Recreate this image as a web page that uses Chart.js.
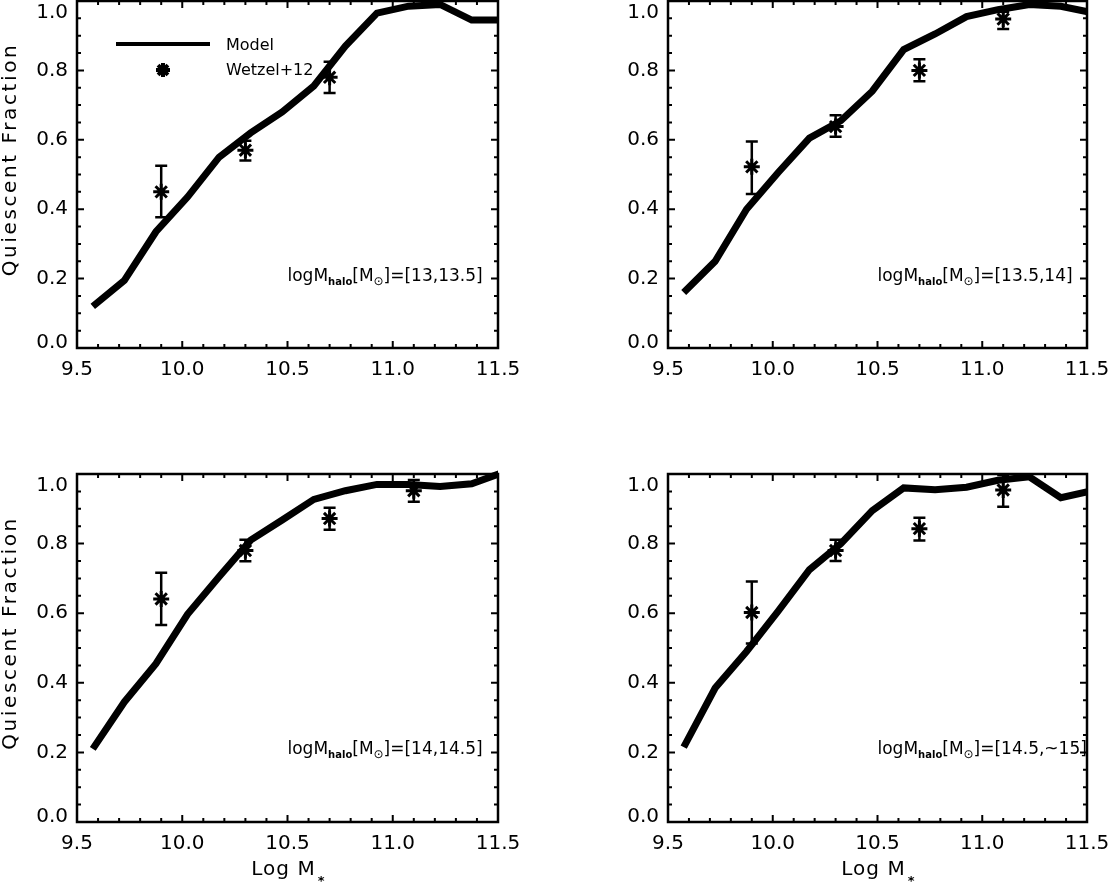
<!DOCTYPE html>
<html>
<head>
<meta charset="utf-8">
<script src="https://cdn.jsdelivr.net/npm/chart.js@4.4.1/dist/chart.umd.min.js"></script>
<style>
  html, body { margin: 0; padding: 0; background: #fff; width: 1110px; height: 886px; overflow: hidden; position: relative; }
</style>
</head>
<body>
<script>
// ---- data ----
const massBins = [9.575, 9.725, 9.875, 10.025, 10.175, 10.325, 10.475, 10.625, 10.775, 10.925, 11.075, 11.225, 11.375, 11.525];
const obsMass = [9.9, 10.3, 10.7, 11.1];
const xTicks = [9.5, 10.0, 10.5, 11.0, 11.5];
const yTicks = [0.0, 0.2, 0.4, 0.6, 0.8, 1.0];

// model quiescent fraction, one list per halo mass bin
const modelTL = [0.12, 0.195, 0.335, 0.435, 0.55, 0.62, 0.68, 0.755, 0.87, 0.965, 0.985, 0.99, 0.945, 0.945];
const modelTR = [0.16, 0.25, 0.40, 0.505, 0.605, 0.655, 0.74, 0.86, 0.905, 0.955, 0.975, 0.99, 0.985, 0.966];
const modelBL = [0.21, 0.345, 0.455, 0.597, 0.705, 0.81, 0.868, 0.927, 0.952, 0.97, 0.97, 0.964, 0.972, 1.005];
const modelBR = [0.215, 0.385, 0.49, 0.605, 0.725, 0.80, 0.895, 0.96, 0.955, 0.962, 0.982, 0.992, 0.932, 0.952];

// Wetzel+12 points and error bar ends
const obsTL = [0.45, 0.57, 0.78, null];
const obsLoTL = [0.377, 0.54, 0.735, null];
const obsHiTL = [0.525, 0.597, 0.825, null];
const obsTR = [0.522, 0.638, 0.80, 0.948];
const obsLoTR = [0.444, 0.609, 0.769, 0.919];
const obsHiTR = [0.595, 0.671, 0.832, 0.969];
const obsBL = [0.641, 0.78, 0.872, 0.952];
const obsLoBL = [0.566, 0.749, 0.84, 0.92];
const obsHiBL = [0.716, 0.811, 0.903, 0.983];
const obsBR = [0.602, 0.78, 0.843, 0.954];
const obsLoBR = [0.513, 0.75, 0.809, 0.906];
const obsHiBR = [0.691, 0.811, 0.874, 0.997];

const haloRanges = ['[13,13.5]', '[13.5,14]', '[14,14.5]', '[14.5,~15]'];

// ---- styling ----
const FONT = "'DejaVu Sans', 'Liberation Sans', sans-serif";
Chart.defaults.font.family = FONT;
Chart.defaults.color = '#000';

// y axis that keeps the end labels inside the frame (like IDL does)
const BaseLinear = Chart.LinearScale || Chart.registry.getScale('linear');
class EdgeLinearScale extends BaseLinear {
    _computeLabelItems(chartArea) {
        const items = super._computeLabelItems(chartArea);
        if (this.isHorizontal() || items.length < 2) return items;
        items[0].options.textBaseline = 'alphabetic';
        const last = items[items.length - 1].options;
        last.textBaseline = 'top';
        last.translation = [last.translation[0], last.translation[1] + 2];
        return items;
    }
}
EdgeLinearScale.id = 'edgeLinear';
EdgeLinearScale.defaults = BaseLinear.defaults;
Chart.register(EdgeLinearScale);

function drawSubText(ctx, parts, x, y) {
    // parts: [text, size, bold, dy]
    ctx.textAlign = 'left';
    ctx.textBaseline = 'alphabetic';
    parts.forEach(([t, size, bold, dy]) => {
        ctx.font = (bold ? 'bold ' : '') + size + 'px ' + FONT;
        ctx.fillText(t, x, y + dy);
        x += ctx.measureText(t).width;
    });
}

const panelDecor = {
    id: 'panelDecor',
    beforeDatasetsDraw(chart) {
        const ctx = chart.ctx, xs = chart.scales.x, ys = chart.scales.y;
        chart.data.datasets.forEach(ds => {
            if (!ds.errLo) return;
            ctx.save();
            ctx.strokeStyle = '#000';
            ctx.lineWidth = 2.5;
            ds.data.forEach((pt, i) => {
                const px = xs.getPixelForValue(pt.x);
                const lo = ys.getPixelForValue(ds.errLo[i]);
                const hi = ys.getPixelForValue(ds.errHi[i]);
                ctx.beginPath();
                ctx.moveTo(px, lo); ctx.lineTo(px, hi);
                ctx.moveTo(px - 6, lo); ctx.lineTo(px + 6, lo);
                ctx.moveTo(px - 6, hi); ctx.lineTo(px + 6, hi);
                ctx.stroke();
            });
            ctx.restore();
        });
    },
    afterDraw(chart, args, opts) {
        const ctx = chart.ctx, ca = chart.chartArea;
        const xs = chart.scales.x, ys = chart.scales.y;
        ctx.save();
        ctx.strokeStyle = '#000';
        ctx.fillStyle = '#000';

        // inward ticks on all four sides
        ctx.lineWidth = 2;
        ctx.beginPath();
        for (let k = 0; k <= 20; k++) {
            const v = 9.5 + k * 0.1;
            const len = (k % 5 === 0) ? 7 : 4;
            const px = xs.getPixelForValue(v);
            ctx.moveTo(px, ca.bottom); ctx.lineTo(px, ca.bottom - len);
            ctx.moveTo(px, ca.top); ctx.lineTo(px, ca.top + len);
        }
        for (let k = 0; k <= 20; k++) {
            const v = k * 0.05;
            const len = (k % 4 === 0) ? 7 : 4;
            const py = ys.getPixelForValue(v);
            ctx.moveTo(ca.left, py); ctx.lineTo(ca.left + len, py);
            ctx.moveTo(ca.right, py); ctx.lineTo(ca.right - len, py);
        }
        ctx.stroke();

        // frame
        ctx.lineWidth = 2.5;
        ctx.strokeRect(ca.left, ca.top, ca.right - ca.left, ca.bottom - ca.top);

        // halo mass bin label
        drawSubText(ctx, [
            ['logM', 17, false, 0],
            ['halo', 10, true, 4],
            ['[M', 17, false, 0],
            ['\u2299', 12, false, 4],
            [']=' + opts.range, 17, false, 0]
        ], xs.getPixelForValue(10.5), ys.getPixelForValue(0.2) + 2);

        // legend (first panel only)
        if (opts.legend) {
            const ds = chart.data.datasets;
            ctx.lineWidth = 4;
            ctx.beginPath();
            ctx.moveTo(ca.left + 39, ca.top + 43);
            ctx.lineTo(ca.left + 133, ca.top + 43);
            ctx.stroke();
            ctx.lineWidth = 4;
            Chart.helpers.drawPoint(ctx, { pointStyle: 'star', radius: 7, borderWidth: 4, rotation: 0 },
                ca.left + 86, ca.top + 69);
            ctx.font = '16px ' + FONT;
            ctx.textAlign = 'left';
            ctx.textBaseline = 'middle';
            ctx.fillText(ds[0].label, ca.left + 149, ca.top + 45);
            ctx.fillText(ds[1].label, ca.left + 149, ca.top + 70);
        }

        // axis titles
        if (opts.yTitle) {
            ctx.save();
            ctx.translate(11, (ca.top + ca.bottom) / 2 - 15);
            ctx.rotate(-Math.PI / 2);
            ctx.font = '20px ' + FONT;
            ctx.letterSpacing = '2.6px';
            ctx.textAlign = 'center';
            ctx.textBaseline = 'middle';
            ctx.fillText('Quiescent Fraction', 0, 0);
            ctx.restore();
        }
        if (opts.xTitle) {
            ctx.font = '20px ' + FONT;
            ctx.letterSpacing = '1px';
            const main = 'Log M';
            const w = ctx.measureText(main).width;
            const cx = (ca.left + ca.right) / 2;
            const base = ca.bottom + 53;
            ctx.textAlign = 'left';
            ctx.textBaseline = 'alphabetic';
            ctx.fillText(main, cx - w / 2 - 4, base);
            ctx.letterSpacing = '0px';
            ctx.font = 'bold 13px ' + FONT;
            ctx.fillText('*', cx + w / 2 - 2, base + 10);
        }
        ctx.restore();
    }
};

const PANELS = [
    { box: { left: 77, top: 1, right: 498, bottom: 348 }, model: modelTL, obs: obsTL, lo: obsLoTL, hi: obsHiTL, range: haloRanges[0], legend: true, yTitle: true, xTitle: false },
    { box: { left: 668, top: 1, right: 1087, bottom: 348 }, model: modelTR, obs: obsTR, lo: obsLoTR, hi: obsHiTR, range: haloRanges[1], legend: false, yTitle: false, xTitle: false },
    { box: { left: 77, top: 474, right: 498, bottom: 822 }, model: modelBL, obs: obsBL, lo: obsLoBL, hi: obsHiBL, range: haloRanges[2], legend: false, yTitle: true, xTitle: true },
    { box: { left: 668, top: 474, right: 1087, bottom: 822 }, model: modelBR, obs: obsBR, lo: obsLoBR, hi: obsHiBR, range: haloRanges[3], legend: false, yTitle: false, xTitle: true }
];

const Y_AXIS_W = 77, TOP_PAD = 31, X_AXIS_H = 60;

function buildPanel(p) {
    const cx = p.box.left - Y_AXIS_W;
    const cy = p.box.top - TOP_PAD;
    const cw = Math.min(1110 - cx, 560);
    const ch = p.box.bottom - cy + 64;

    const canvas = document.createElement('canvas');
    canvas.width = cw;
    canvas.height = ch;
    canvas.style.cssText = 'position:absolute;left:' + cx + 'px;top:' + cy + 'px;width:' + cw + 'px;height:' + ch + 'px;';
    document.body.appendChild(canvas);

    const keep = p.obs.map(v => v !== null);
    const obsPts = obsMass.map((m, i) => ({ x: m, y: p.obs[i] })).filter((d, i) => keep[i]);

    new Chart(canvas, {
        type: 'line',
        data: {
            datasets: [{
                label: 'Model',
                data: massBins.map((m, i) => ({ x: m, y: p.model[i] })),
                borderColor: '#000',
                borderWidth: 7,
                pointRadius: 0,
                tension: 0,
                fill: false,
                clip: { left: 0, right: 0, top: 5, bottom: 0 }
            }, {
                label: 'Wetzel+12',
                data: obsPts,
                errLo: p.lo.filter((v, i) => keep[i]),
                errHi: p.hi.filter((v, i) => keep[i]),
                showLine: false,
                pointStyle: 'star',
                pointRadius: 8,
                pointBorderWidth: 3,
                pointBorderColor: '#000',
                pointBackgroundColor: '#000',
                borderColor: '#000',
                clip: false
            }]
        },
        options: {
            responsive: false,
            animation: false,
            events: [],
            layout: {
                padding: { left: 0, top: TOP_PAD, right: cw - (p.box.right - cx), bottom: ch - (p.box.bottom - cy) - X_AXIS_H }
            },
            plugins: {
                legend: { display: false },
                tooltip: { enabled: false },
                panelDecor: { range: p.range, legend: p.legend, yTitle: p.yTitle, xTitle: p.xTitle }
            },
            scales: {
                x: {
                    type: 'linear',
                    min: 9.5,
                    max: 11.5,
                    grid: { display: false, drawTicks: false },
                    border: { display: false },
                    afterBuildTicks: s => { s.ticks = xTicks.map(v => ({ value: v })); },
                    ticks: {
                        padding: 10,
                        maxRotation: 0,
                        autoSkip: false,
                        font: { size: 20 },
                        color: '#000',
                        callback: v => Number(v).toFixed(1)
                    },
                    afterFit: s => { s.height = X_AXIS_H; s.paddingLeft = 0; s.paddingRight = 0; }
                },
                y: {
                    type: 'edgeLinear',
                    min: 0,
                    max: 1,
                    grid: { display: false, drawTicks: false },
                    border: { display: false },
                    afterBuildTicks: s => { s.ticks = yTicks.map(v => ({ value: v })); },
                    ticks: {
                        padding: 9,
                        font: { size: 20 },
                        color: '#000',
                        callback: v => Number(v).toFixed(1)
                    },
                    afterFit: s => { s.width = Y_AXIS_W; s.paddingTop = 0; s.paddingBottom = 0; }
                }
            }
        },
        plugins: [panelDecor]
    });
}

PANELS.forEach(buildPanel);
</script>
</body>
</html>
